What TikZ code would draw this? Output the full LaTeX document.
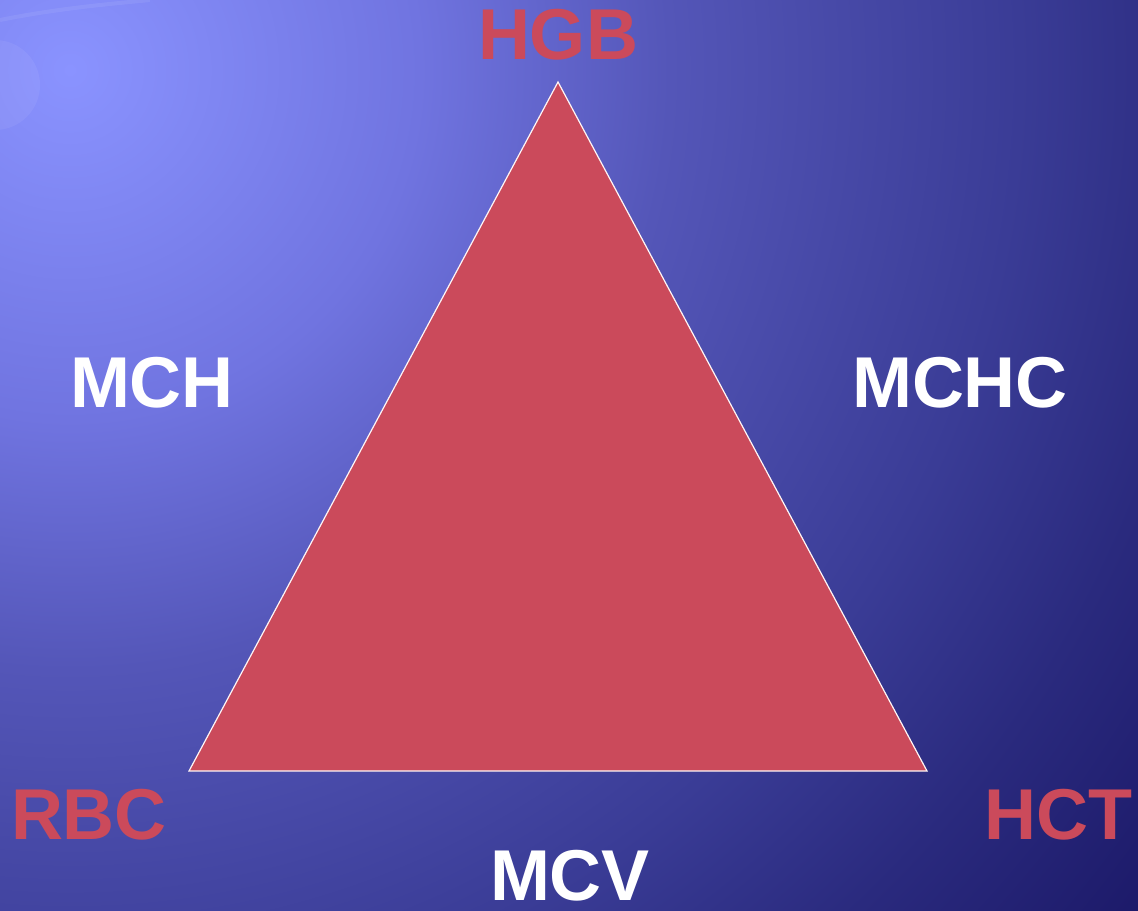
\documentclass[tikz,border=0pt]{standalone}
\usepackage{fontspec}
\setmainfont{Liberation Sans}
\usepackage{tikz}
\usetikzlibrary{positioning}
\definecolor{triRed}{HTML}{CB4A5B}
\definecolor{bgA}{HTML}{8A93FF}
\definecolor{bgB}{HTML}{7074E0}
\definecolor{bgC}{HTML}{5456B8}
\definecolor{bgD}{HTML}{3A3C96}
\definecolor{bgE}{HTML}{2A2A7E}
\definecolor{bgF}{HTML}{1A1766}
\pgfdeclareradialshading{bgglow}{\pgfpointorigin}{%
  color(0pt)=(bgA); color(175pt)=(bgB); color(300pt)=(bgC);
  color(475pt)=(bgD); color(575pt)=(bgE); color(700pt)=(bgF); color(750pt)=(bgF)}

\begin{document}
\begin{tikzpicture}[
  x=0.5pt, y=-0.5pt,
  lbl/.style={font=\fontsize{36}{40}\selectfont\bfseries, inner sep=0pt},
  corner/.style={lbl, text=triRed},
  side/.style={lbl, text=white}]
\useasboundingbox (0,0) rectangle (1138,910);
% background
\begin{scope}
\clip (0,0) rectangle (1138,910);
\node[inner sep=0pt] (glow) at (70,70) {\pgfuseshading{bgglow}};
\fill[white, opacity=0.06] (-5,85) circle (45);
\draw[white, opacity=0.07, line width=2pt] (0,20) .. controls (60,8) and (110,4) .. (150,0);
\end{scope}
% triangle
\coordinate (top) at (558,82);
\coordinate (left) at (189,771);
\coordinate (right) at (927,771);
\filldraw[fill=triRed, draw=white!85!pink, line width=0.6pt] (top) -- (right) -- (left) -- cycle;
% labels
\node[corner] (hgb) at (558,35) {HGB};
\node[corner] (rbc) at (89,815) {RBC};
\node[corner] (hct) at (1058,815) {HCT};
\node[side] (mch) at (152,383) {MCH};
\node[side] (mchc) at (960,383) {MCHC};
\node[side] (mcv) at (570,876) {MCV};
\end{tikzpicture}
\end{document}
